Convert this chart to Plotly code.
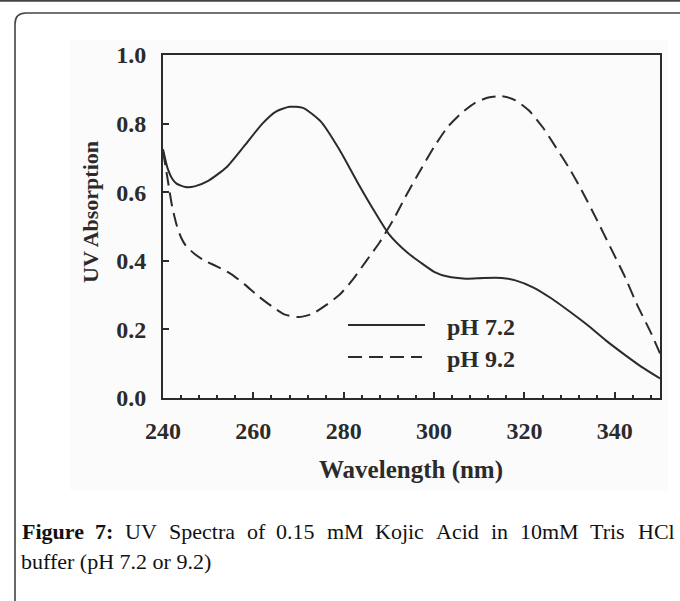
import plotly.graph_objects as go

# UV spectra of kojic acid
wavelength_ph72 = [240, 241, 242, 243, 245, 247, 250, 254, 258, 262, 265, 268, 271, 275,
                   279, 283, 287, 290, 294, 297, 300, 303, 307, 311, 315, 318, 322, 326,
                   330, 334, 338, 342, 346, 350]
absorb_ph72 = [0.725, 0.67, 0.64, 0.625, 0.615, 0.617, 0.633, 0.672, 0.735, 0.80, 0.835, 0.849,
               0.846, 0.805, 0.725, 0.63, 0.54, 0.478, 0.425, 0.395, 0.368, 0.354, 0.348,
               0.350, 0.350, 0.343, 0.322, 0.29, 0.252, 0.212, 0.168, 0.128, 0.09, 0.057]

wavelength_ph92 = [240, 241, 242, 243, 244, 245, 247, 249, 252, 255, 258, 261, 264, 267, 270,
                   273, 276, 279, 282, 285, 288, 291, 294, 297, 300, 303, 306, 309, 312, 315,
                   318, 321, 324, 327, 330, 333, 336, 339, 342, 345, 348, 350]
absorb_ph92 = [0.72, 0.64, 0.56, 0.505, 0.468, 0.445, 0.42, 0.402, 0.383, 0.362, 0.332, 0.298,
               0.268, 0.243, 0.236, 0.245, 0.27, 0.30, 0.345, 0.40, 0.455, 0.52, 0.595, 0.665,
               0.732, 0.79, 0.83, 0.86, 0.876, 0.88, 0.868, 0.838, 0.79, 0.73, 0.668, 0.597,
               0.52, 0.44, 0.36, 0.27, 0.19, 0.13]

x_ticks = [240, 260, 280, 300, 320, 340]
y_ticks = [0.0, 0.2, 0.4, 0.6, 0.8, 1.0]
series_names = ["pH 7.2", "pH 9.2"]
caption_words = ["<b>Figure</b>", "<b>7:</b>", "UV", "Spectra", "of", "0.15", "mM", "Kojic",
                 "Acid", "in", "10mM", "Tris", "HCl"]
caption_line2 = "buffer (pH 7.2 or 9.2)"

W, H = 680, 601
L, R, T, B = 163, 660, 55, 398  # plot area in page pixels


def px(x):
    return (x - L) / (R - L)


def py(y):
    return (B - y) / (B - T)


SERIF = "Liberation Serif"
INK = "#2b2b2b"

fig = go.Figure()
fig.add_trace(go.Scatter(x=wavelength_ph72, y=absorb_ph72, mode="lines", name=series_names[0],
                         line=dict(color=INK, width=2, shape="spline", smoothing=0.6)))
fig.add_trace(go.Scatter(x=wavelength_ph92, y=absorb_ph92, mode="lines", name=series_names[1],
                         line=dict(color=INK, width=2, dash="14px,7px", shape="spline",
                                   smoothing=0.6)))

shapes = []
# faint scan background behind the figure
shapes.append(dict(type="rect", xref="paper", yref="paper", layer="below",
                   x0=px(70), x1=px(668), y0=py(40), y1=py(490),
                   fillcolor="#fbfbfb", line=dict(width=0)))
# page rule at the very top and rounded caption box
shapes.append(dict(type="line", xref="paper", yref="paper",
                   x0=px(0), x1=px(W), y0=py(0.8), y1=py(0.8),
                   line=dict(color="#444", width=2)))
box = "M {a},{b} L {a},{c} Q {a},{d} {e},{d} L {f},{d}".format(
    a=px(15), b=py(640), c=py(24), d=py(13), e=px(26), f=px(720))
shapes.append(dict(type="path", xref="paper", yref="paper", path=box,
                   line=dict(color="#444", width=1.6)))
# legend samples
shapes.append(dict(type="line", xref="paper", yref="paper",
                   x0=px(348), x1=px(425), y0=py(325), y1=py(325),
                   line=dict(color=INK, width=2)))
shapes.append(dict(type="line", xref="paper", yref="paper",
                   x0=px(348), x1=px(422), y0=py(357), y1=py(357),
                   line=dict(color=INK, width=2, dash="14px,7px")))

annotations = [
    dict(text="<b>%s</b>" % series_names[0], x=px(445), y=py(327), xanchor="left",
         yanchor="middle"),
    dict(text="<b>%s</b>" % series_names[1], x=px(445), y=py(359), xanchor="left",
         yanchor="middle"),
    dict(text="<b>UV Absorption</b>", x=px(90), y=py(212), textangle=-90,
         xanchor="center", yanchor="middle", font=dict(size=22)),
    dict(text="<b>Wavelength (nm)</b>", x=px(411), y=py(470), xanchor="center",
         yanchor="middle", font=dict(size=25)),
    dict(text=caption_line2, x=px(19), y=py(561), xanchor="left", yanchor="middle",
         font=dict(size=22, color="#111")),
]
# first caption line is justified across the box, so each word gets its own slot
word_left = [20, 93, 123, 167, 245, 274, 325, 373, 434, 489, 518, 588, 636]
for word, xl in zip(caption_words, word_left):
    annotations.append(dict(text=word, x=px(xl), y=py(531), xanchor="left", yanchor="middle",
                            font=dict(size=22, color="#111")))
for a in annotations:
    a.update(xref="paper", yref="paper", showarrow=False)
    a.setdefault("font", dict(size=24))
    a["font"].setdefault("family", SERIF)
    a["font"].setdefault("color", INK)

fig.update_layout(
    width=W, height=H,
    margin=dict(l=L, r=W - R, t=T, b=H - B),
    paper_bgcolor="white", plot_bgcolor="rgba(0,0,0,0)",
    showlegend=False,
    font=dict(family=SERIF, color=INK),
    shapes=shapes, annotations=annotations,
)
fig.update_xaxes(range=[240, 350], tickvals=x_ticks, ticks="inside", ticklen=6, tickwidth=1.5,
                 tickcolor=INK, showline=True, mirror=True, linecolor=INK, linewidth=2,
                 showgrid=False, zeroline=False, ticklabelstandoff=10,
                 tickfont=dict(size=24, family=SERIF, color=INK, weight="bold"),
                 minor=dict(dtick=4, tick0=240, ticks="inside", ticklen=3, tickcolor=INK,
                            showgrid=False))
fig.update_yaxes(range=[0, 1.0], tickvals=y_ticks, tickformat=".1f", ticks="inside", ticklen=6,
                 tickwidth=1.5, tickcolor=INK, showline=True, mirror=True, linecolor=INK,
                 linewidth=2, showgrid=False, zeroline=False, ticklabelstandoff=10,
                 tickfont=dict(size=24, family=SERIF, color=INK, weight="bold"))

# drop the browser's default 8px body margin so the figure sits at the page corner
fig.write_html("out.html", config={"displayModeBar": False},
               post_script="document.body.style.margin = '0';")
